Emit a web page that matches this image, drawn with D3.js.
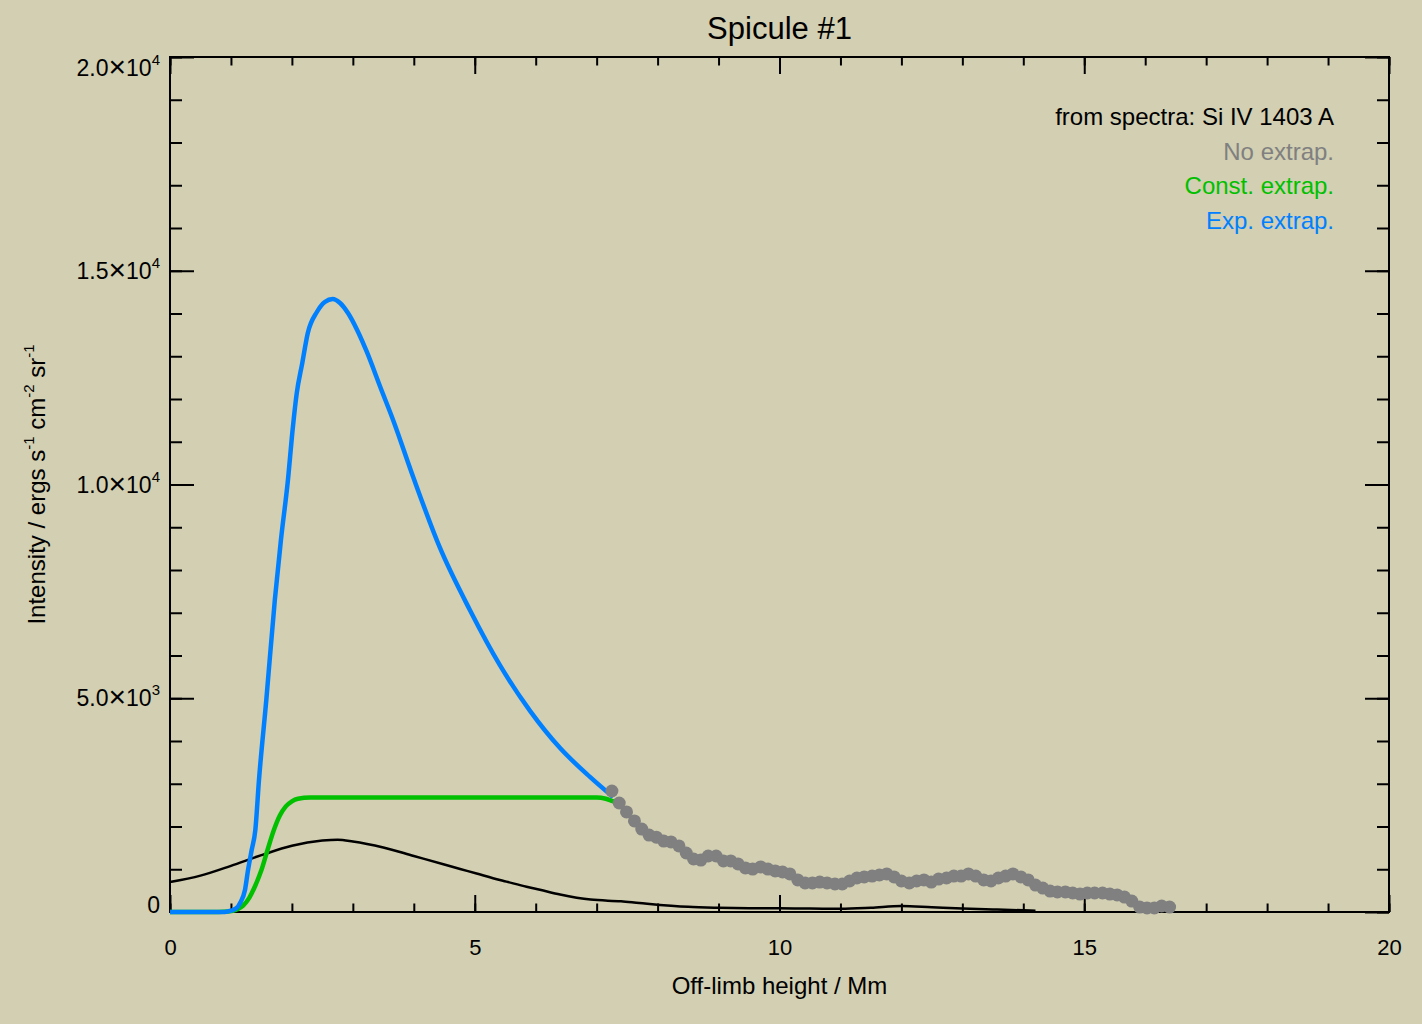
<!DOCTYPE html>
<html>
<head>
<meta charset="utf-8">
<script src="https://cdn.jsdelivr.net/npm/d3@7"></script>
<style>
  body { margin: 0; background: #d2cfb2; }
  svg { font-family: "Liberation Sans", Arial, sans-serif; }
</style>
</head>
<body>
<div id="chart"></div>
<script>
// ---- data ----
// observed points (no extrapolation), height in Mm, intensity in erg s-1 cm-2 sr-1
const obsHeight = [7.25, 7.37, 7.49, 7.62, 7.74, 7.86, 7.98, 8.10, 8.22, 8.35, 8.47, 8.59, 8.71, 8.83, 8.96, 9.08,
  9.20, 9.32, 9.44, 9.56, 9.69, 9.81, 9.93, 10.05, 10.17, 10.30, 10.42, 10.54, 10.66, 10.78, 10.91, 11.03,
  11.15, 11.27, 11.39, 11.52, 11.64, 11.76, 11.88, 12.00, 12.13, 12.25, 12.37, 12.49, 12.61, 12.74, 12.86,
  12.98, 13.10, 13.22, 13.35, 13.47, 13.59, 13.71, 13.83, 13.96, 14.08, 14.20, 14.32, 14.44, 14.56, 14.69,
  14.81, 14.93, 15.05, 15.17, 15.30, 15.42, 15.54, 15.66, 15.78, 15.91, 16.03, 16.15, 16.27, 16.40];
const obsIntensity = [2830, 2550, 2340, 2130, 1940, 1800, 1750, 1660, 1640, 1545, 1380, 1240, 1215, 1310, 1310, 1195,
  1195, 1125, 1030, 1005, 1055, 1005, 960, 935, 890, 750, 680, 680, 700, 680, 655, 655,
  725, 795, 820, 840, 865, 890, 820, 725, 680, 725, 750, 700, 770, 795, 840,
  840, 890, 840, 750, 725, 795, 840, 890, 820, 750, 630, 560, 490, 470, 470,
  445, 420, 445, 445, 445, 420, 400, 350, 255, 115, 95, 95, 140, 115];

// constant extrapolation
const constHeight = [0, 0.5, 0.8, 0.95, 1.1, 1.2, 1.3, 1.4, 1.5, 1.6, 1.7, 1.8, 1.9, 2.0, 2.1, 2.3, 3.0, 4.0, 5.0, 6.0, 7.0, 7.15, 7.25, 7.35];
const constIntensity = [0, 0, 0, 10, 60, 150, 330, 620, 980, 1450, 1900, 2250, 2470, 2590, 2650, 2680, 2680, 2680, 2680, 2680, 2680, 2650, 2600, 2550];

// exponential extrapolation
const expHeight = [0, 0.5, 0.9, 1.0, 1.1, 1.15, 1.23, 1.28, 1.34, 1.40, 1.46, 1.58, 1.72, 1.82, 1.94, 2.00, 2.08, 2.17,
  2.26, 2.41, 2.54, 2.67, 2.79, 2.92, 3.07, 3.23, 3.45, 3.66, 3.99, 4.43, 4.92, 5.41, 5.91, 6.40, 6.89, 7.27];
const expIntensity = [0, 0, 0, 30, 100, 210, 515, 980, 1450, 1920, 3090, 4960, 7300, 8700, 10175, 11110, 12140, 12840,
  13540, 14035, 14270, 14340, 14245, 14010, 13615, 13100, 12280, 11510, 10175, 8515, 7065, 5780, 4700, 3835, 3160, 2690];

// Si IV 1403 spectra profile
const specHeight = [0, 0.5, 1.0, 1.5, 2.0, 2.5, 2.75, 3.0, 3.5, 4.0, 4.5, 4.76, 5.03, 5.3, 5.52, 5.85, 6.07, 6.4, 6.9, 7.4,
  7.7, 8.5, 9.0, 9.5, 10.0, 10.5, 11.0, 11.5, 12.0, 12.5, 13.0, 13.5, 14.0, 14.2];
const specIntensity = [700, 850, 1080, 1330, 1550, 1670, 1690, 1650, 1510, 1310, 1110, 1005, 900, 790, 710, 590, 520, 410, 290, 250,
  210, 120, 100, 90, 85, 80, 75, 100, 140, 110, 80, 60, 40, 30];

const xTicks = [0, 5, 10, 15, 20];
const yTicks = [0, 5000, 10000, 15000, 20000];
const yTickMant = ["0", "5.0", "1.0", "1.5", "2.0"];
const yTickExp = ["", "3", "4", "4", "4"];

const legendItems = [
  {label: "from spectra: Si IV 1403 A", color: "#000000"},
  {label: "No extrap.", color: "#808080"},
  {label: "Const. extrap.", color: "#00c000"},
  {label: "Exp. extrap.", color: "#0080ff"}
];

// ---- chart ----
const width = 1422, height = 1024,
    margin = {top: 57, right: 33, bottom: 112, left: 170};

const svg = d3.select("#chart").append("svg")
    .attr("width", width)
    .attr("height", height);

svg.append("rect").attr("width", width).attr("height", height).attr("fill", "#d2cfb2");

const x = d3.scaleLinear().domain([0, 20]).range([margin.left, width - margin.right]);
const y = d3.scaleLinear().domain([0, 20000]).range([height - margin.bottom, margin.top]);

const x0 = margin.left, x1 = width - margin.right, y0 = height - margin.bottom, y1 = margin.top;

// minor / major ticks on all four sides
const xMinor = d3.range(0, 21);
const yMinor = d3.range(0, 20001, 1000);

function ticks(g) {
  g.selectAll(".domain").remove();
  g.selectAll("line").attr("stroke", "#000").attr("stroke-width", 2);
}

svg.append("g").attr("transform", `translate(0,${y0})`)
    .call(d3.axisBottom(x).tickValues(xMinor).tickSize(-8.5).tickSizeOuter(0).tickFormat(""))
    .call(ticks);
svg.append("g").attr("transform", `translate(0,${y1})`)
    .call(d3.axisTop(x).tickValues(xMinor).tickSize(-8.5).tickSizeOuter(0).tickFormat(""))
    .call(ticks);
svg.append("g").attr("transform", `translate(${x0},0)`)
    .call(d3.axisLeft(y).tickValues(yMinor).tickSize(-12).tickSizeOuter(0).tickFormat(""))
    .call(ticks);
svg.append("g").attr("transform", `translate(${x1},0)`)
    .call(d3.axisRight(y).tickValues(yMinor).tickSize(-12).tickSizeOuter(0).tickFormat(""))
    .call(ticks);

// major x ticks + labels
const xAxis = svg.append("g").attr("transform", `translate(0,${y0})`)
    .call(d3.axisBottom(x).tickValues(xTicks).tickSize(-17).tickSizeOuter(0).tickPadding(27).tickFormat(d3.format("d")))
    .call(ticks);
xAxis.selectAll("text").attr("font-size", 22).attr("fill", "#000").attr("font-family", "Liberation Sans, Arial, sans-serif");
svg.append("g").attr("transform", `translate(0,${y1})`)
    .call(d3.axisTop(x).tickValues(xTicks).tickSize(-17).tickSizeOuter(0).tickFormat(""))
    .call(ticks);

// major y ticks
svg.append("g").attr("transform", `translate(${x0},0)`)
    .call(d3.axisLeft(y).tickValues(yTicks).tickSize(-24).tickSizeOuter(0).tickFormat(""))
    .call(ticks);
svg.append("g").attr("transform", `translate(${x1},0)`)
    .call(d3.axisRight(y).tickValues(yTicks).tickSize(-24).tickSizeOuter(0).tickFormat(""))
    .call(ticks);

// y labels with superscripts
const yLab = svg.append("g").selectAll("text")
    .data(yTicks)
    .enter().append("text")
    .attr("text-anchor", "end")
    .attr("font-size", 23)
    .attr("x", x0 - 10)
    .attr("y", d => Math.min(Math.max(y(d), y1 + 11), y0 - 7) + 8);
yLab.append("tspan").text((d, i) => yTickMant[i] === "0" ? "0" : yTickMant[i]);
yLab.append("tspan").attr("font-size", 30).attr("dy", 1).text((d, i) => yTickMant[i] === "0" ? "" : "\u00d7");
yLab.append("tspan").attr("dy", -1).text((d, i) => yTickMant[i] === "0" ? "" : "10");
yLab.append("tspan")
    .attr("font-size", 15)
    .attr("dy", -11)
    .text((d, i) => yTickExp[i]);

// frame
svg.append("rect")
    .attr("x", x0).attr("y", y1)
    .attr("width", x1 - x0).attr("height", y0 - y1)
    .attr("fill", "none").attr("stroke", "#000").attr("stroke-width", 2);

// curves
const line = d3.line().x(d => x(d[0])).y(d => y(d[1])).curve(d3.curveMonotoneX);

svg.append("path")
    .datum(d3.zip(specHeight, specIntensity))
    .attr("fill", "none").attr("stroke", "#000").attr("stroke-width", 2.5)
    .attr("d", line);

svg.append("path")
    .datum(d3.zip(constHeight, constIntensity))
    .attr("fill", "none").attr("stroke", "#00c000").attr("stroke-width", 4.5)
    .attr("d", line);

svg.append("path")
    .datum(d3.zip(expHeight, expIntensity))
    .attr("fill", "none").attr("stroke", "#0080ff").attr("stroke-width", 4.5)
    .attr("d", line);

svg.append("g").selectAll("circle")
    .data(d3.zip(obsHeight, obsIntensity))
    .enter().append("circle")
    .attr("cx", d => x(d[0]))
    .attr("cy", d => y(d[1]))
    .attr("r", 6.5)
    .attr("fill", "#808080");

// titles
svg.append("text")
    .attr("x", (x0 + x1) / 2).attr("y", 39)
    .attr("text-anchor", "middle").attr("font-size", 31)
    .text("Spicule #1");

svg.append("text")
    .attr("x", (x0 + x1) / 2).attr("y", 994)
    .attr("text-anchor", "middle").attr("font-size", 24)
    .text("Off-limb height / Mm");

const yTitle = svg.append("text")
    .attr("transform", `translate(45,${(y0 + y1) / 2}) rotate(-90)`)
    .attr("text-anchor", "middle").attr("font-size", 24);
yTitle.append("tspan").text("Intensity / ergs s");
yTitle.append("tspan").attr("font-size", 15).attr("dy", -11).text("-1");
yTitle.append("tspan").attr("dy", 11).text(" cm");
yTitle.append("tspan").attr("font-size", 15).attr("dy", -11).text("-2");
yTitle.append("tspan").attr("dy", 11).text(" sr");
yTitle.append("tspan").attr("font-size", 15).attr("dy", -11).text("-1");

// legend
svg.append("g").selectAll("text")
    .data(legendItems)
    .enter().append("text")
    .attr("x", 1334)
    .attr("y", (d, i) => 125 + i * 34.7)
    .attr("text-anchor", "end")
    .attr("font-size", 24)
    .attr("fill", d => d.color)
    .text(d => d.label);
</script>
</body>
</html>
